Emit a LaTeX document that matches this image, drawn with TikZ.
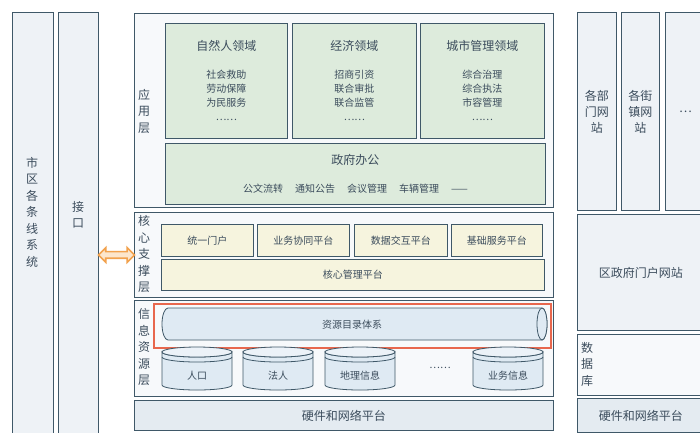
\documentclass[tikz,border=0pt]{standalone}
\usepackage{fontspec}
\setmainfont{Noto Sans CJK SC}
\usetikzlibrary{shapes.arrows,calc}

\definecolor{linegray}{HTML}{3F5868}
\definecolor{textgray}{HTML}{3B4C5C}
\definecolor{greenfill}{HTML}{DDEBDC}
\definecolor{yellowfill}{HTML}{F6F4DE}
\definecolor{bluefill}{HTML}{DFEAF3}
\definecolor{hwfill}{HTML}{E4EBF1}
\definecolor{colfill}{HTML}{EEF2F6}
\definecolor{framefill}{HTML}{F7F9FB}
\definecolor{redline}{HTML}{E8674D}
\definecolor{orangeline}{HTML}{F2A24E}
\definecolor{orangefill}{HTML}{FCE6CC}

\tikzset{
    box/.style={draw=linegray, line width=0.9pt, anchor=north west, inner sep=0pt, text=textgray},
    size/.style 2 args={minimum width=#1pt, minimum height=#2pt},
    frame/.style={box, fill=framefill},
    colbox/.style={box, fill=colfill, align=center, font=\fontsize{12}{16}\selectfont},
    appbox/.style={box, fill=greenfill, align=center, font=\fontsize{10}{14}\selectfont},
    corebox/.style={box, fill=yellowfill, font=\fontsize{10}{12}\selectfont},
    hwbox/.style={box, fill=hwfill, font=\fontsize{12}{14}\selectfont},
    vlabel/.style={text=textgray, align=center, font=\fontsize{12}{16.5}\selectfont},
    cyl/.style={draw=linegray, line width=0.8pt, fill=bluefill},
}

\begin{document}
\begin{tikzpicture}[x=1pt,y=-1pt]
    \useasboundingbox (0,0) rectangle (700,432);
    \clip (0,0) rectangle (700,432);
    \fill[white] (0,0) rectangle (700,432);

    % left columns
    \node[colbox, size={41}{430}] (shiqu) at (12,12) {};
    \node[vlabel] (shiqutext) at (32,212) {市\\区\\各\\条\\线\\系\\统};
    \node[colbox, size={40}{430}] (jiekou) at (58,12) {};
    \node[vlabel] (jiekoutext) at (78,215) {接\\口};

    % application layer
    \node[frame, size={419}{194}] (yingyong) at (134,13) {};
    \node[vlabel] (yingyongtext) at (144,111) {应\\用\\层};
    \node[appbox, size={122}{115}] (ziran) at (165,23) {{\fontsize{12}{14}\selectfont 自然人领域}\\[14pt]社会救助\\劳动保障\\为民服务\\……};
    \node[appbox, size={124}{115}] (jingji) at (292,23) {{\fontsize{12}{14}\selectfont 经济领域}\\[14pt]招商引资\\联合审批\\联合监管\\……};
    \node[appbox, size={124}{115}] (chengshi) at (420,23) {{\fontsize{12}{14}\selectfont 城市管理领域}\\[14pt]综合治理\\综合执法\\市容管理\\……};
    \node[appbox, size={380}{61}] (zhengfu) at (165,143) {{\fontsize{12}{14}\selectfont 政府办公}\\[14pt]公文流转\hspace{12pt}通知公告\hspace{12pt}会议管理\hspace{12pt}车辆管理\hspace{12pt}——};

    % core layer
    \node[frame, size={419}{85}] (hexin) at (134,212) {};
    \node[vlabel] (hexintext) at (144,254) {核\\心\\支\\撑\\层};
    \node[corebox, size={92}{32}] (menhu) at (161,224) {统一门户};
    \node[corebox, size={92}{32}] (xietong) at (257,224) {业务协同平台};
    \node[corebox, size={93}{32}] (jiaohu) at (354,224) {数据交互平台};
    \node[corebox, size={91}{32}] (jichu) at (451,224) {基础服务平台};
    \node[corebox, size={383}{31}] (guanli) at (161,259) {核心管理平台};

    % arrow between interface and platform
    \node[double arrow, draw=orangeline, fill=orangefill, line width=1.6pt, minimum height=36pt,
          double arrow head extend=4pt, inner sep=2.5pt] (jiekouarrow)
          at ($(jiekou.east |- hexin.west)!0.5!(hexin.west)$) {};

    % information layer
    \node[frame, size={419}{96}] (xinxi) at (134,300) {};
    \node[vlabel] (xinxitext) at (144,347) {信\\息\\资\\源\\层};
    \node[box, draw=redline, line width=2.4pt, size={397}{44}] (hongkuang) at (153,303) {};
    \filldraw[cyl] (168,308) -- (542,308) arc[start angle=-90, end angle=90, x radius=5, y radius=16]
        -- (168,340) arc[start angle=90, end angle=270, x radius=6, y radius=16] -- cycle;
    \draw[cyl] (542,324) ellipse [x radius=5, y radius=16];
    \node[text=textgray, font=\fontsize{10}{12}\selectfont] (mulu) at (352,325) {资源目录体系};

    % databases
    \foreach \cx/\hw/\ty/\nm/\txt in {197/35/347/renkou/人口, 278/35/347/faren/法人, 360/35/347/dili/地理信息,
                                      508/35/347/yewu/业务信息, 664/33/343/shujukucyl/数据库} {
        \filldraw[cyl] (\cx-\hw,\ty+5) -- (\cx-\hw,385) arc[start angle=180, end angle=0, x radius=\hw, y radius=5]
            -- (\cx+\hw,\ty+5) arc[start angle=0, end angle=180, x radius=\hw, y radius=5] -- cycle;
        \draw[cyl, fill=bluefill!60] (\cx,\ty+5) ellipse [x radius=\hw, y radius=5];
        \draw[linegray, line width=0.8pt] (\cx-\hw,\ty+10) arc[start angle=180, end angle=0, x radius=\hw, y radius=5];
        \node[text=textgray, font=\fontsize{10}{12}\selectfont] (\nm) at (\cx,376) {\txt};
    }
    \node[text=textgray, font=\fontsize{10}{12}\selectfont] (more) at (440,368) {……};

    % hardware
    \node[hwbox, size={419}{30}] (yingjian) at (134,400) {硬件和网络平台};

    % right column
    \node[colbox, size={39}{198}] (bumen) at (577,12) {各部\\门网\\站};
    \node[colbox, size={38}{198}] (jiezhen) at (621,12) {各街\\镇网\\站};
    \node[colbox, size={40}{198}] (gengduo) at (665,12) {…};
    \node[colbox, size={127}{116}] (menhuwang) at (577,214) {区政府门户网站};
    \node[frame, size={127}{61}] (shujuku) at (577,334) {};
    \node[vlabel] (shujukutext) at (587,364) {数\\据\\库};
    \node[hwbox, size={127}{34}] (yingjian2) at (577,398) {硬件和网络平台};
\end{tikzpicture}
\end{document}
